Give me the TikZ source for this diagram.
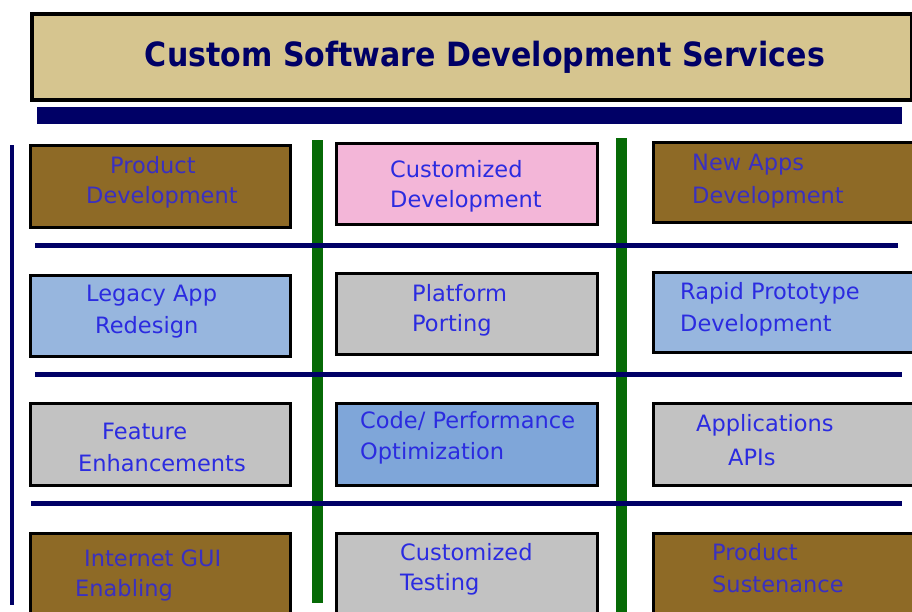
\documentclass[tikz,border=0pt]{standalone}
\usepackage{fontspec}
\setmainfont{DejaVu Sans}
\newfontfamily\titlefont{DejaVu Sans Condensed}
\definecolor{tan}{HTML}{D6C58F}
\definecolor{navy}{HTML}{000066}
\definecolor{dgreen}{HTML}{066A06}
\definecolor{brownbox}{HTML}{8E6A26}
\definecolor{pinkbox}{HTML}{F3B6D8}
\definecolor{bluebox}{HTML}{97B6DE}
\definecolor{codebox}{HTML}{7FA6D9}
\definecolor{graybox}{HTML}{C2C2C2}
\definecolor{txtblue}{HTML}{2B2BE0}
\definecolor{txtdark}{HTML}{3A30C0}
\begin{document}
\begin{tikzpicture}[x=1pt,y=-1pt,
  svc/.style={draw=black,line width=3pt,inner sep=0pt},
  lbl/.style={anchor=west,inner sep=0pt,font=\fontsize{22.5}{25}\selectfont,text=txtblue},
  lbldark/.style={lbl,text=txtdark},
  hline/.style={navy,line width=5pt},
  vbar/.style={dgreen,line width=11pt}]
\useasboundingbox (0,0) rectangle (912,611);
\fill[white] (0,0) rectangle (912,611);
% title
\node[draw=black,line width=4pt,fill=tan,minimum width=880pt,minimum height=86pt,inner sep=0pt,anchor=north west] (title) at (30,12) {};
\node[font=\titlefont\bfseries\fontsize{33.4}{37}\selectfont,text=navy] (titletext) at ([xshift=13pt,yshift=0pt]title.center) {Custom Software Development Services};
\fill[navy] (37,107) rectangle (902,124);
% vertical lines
\coordinate (l1) at (12,145); \coordinate (l2) at (12,605);
\draw[navy,line width=4pt] (l1) -- (l2);
\coordinate (g1a) at (317,140); \coordinate (g1b) at (317,603);
\coordinate (g2a) at (621,138); \coordinate (g2b) at (621,612);
\draw[vbar] (g1a) -- (g1b);
\draw[vbar] (g2a) -- (g2b);
% horizontal lines
\coordinate (h1a) at (35,245); \coordinate (h1b) at (898,245);
\coordinate (h2a) at (35,374); \coordinate (h2b) at (902,374);
\coordinate (h3a) at (31,503); \coordinate (h3b) at (902,503);
\draw[hline] (h1a) -- (h1b);
\draw[hline] (h2a) -- (h2b);
\draw[hline] (h3a) -- (h3b);
% boxes
\path[svc,fill=brownbox] (30,145) rectangle (290,227) coordinate (b11);
\path[svc,fill=pinkbox] (336,143) rectangle (597,224) coordinate (b12);
\path[svc,fill=brownbox] (653,142) rectangle (914,222) coordinate (b13);
\path[svc,fill=bluebox] (30,275) rectangle (290,356) coordinate (b21);
\path[svc,fill=graybox] (336,273) rectangle (597,354) coordinate (b22);
\path[svc,fill=bluebox] (653,272) rectangle (914,352) coordinate (b23);
\path[svc,fill=graybox] (30,403) rectangle (290,485) coordinate (b31);
\path[svc,fill=codebox] (336,403) rectangle (597,485) coordinate (b32);
\path[svc,fill=graybox] (653,403) rectangle (914,485) coordinate (b33);
\path[svc,fill=brownbox] (30,533) rectangle (290,620) coordinate (b41);
\path[svc,fill=graybox] (336,533) rectangle (597,620) coordinate (b42);
\path[svc,fill=brownbox] (653,533) rectangle (914,620) coordinate (b43);
% texts
\node[lbldark] (t11a) at (110,165) {Product};
\node[lbldark] (t11b) at (86,197) {Development};
\node[lbl] (t12a) at (390,169) {Customized};
\node[lbl] (t12b) at (390,201) {Development};
\node[lbldark] (t13a) at (692,165) {New Apps};
\node[lbldark] (t13b) at (692,197) {Development};
\node[lbl] (t21a) at (86,296) {Legacy App};
\node[lbl] (t21b) at (95,327) {Redesign};
\node[lbl] (t22a) at (412,293) {Platform};
\node[lbl] (t22b) at (412,325) {Porting};
\node[lbl] (t23a) at (680,293) {Rapid Prototype};
\node[lbl] (t23b) at (680,325) {Development};
\node[lbl] (t31a) at (102,431) {Feature};
\node[lbl] (t31b) at (78,463) {Enhancements};
\node[lbl] (t32a) at (360,421) {Code/ Performance};
\node[lbl] (t32b) at (360,453) {Optimization};
\node[lbl] (t33a) at (696,425) {Applications};
\node[lbl] (t33b) at (728,457) {APIs};
\node[lbldark] (t41a) at (84,558) {Internet GUI};
\node[lbldark] (t41b) at (75,590) {Enabling};
\node[lbl] (t42a) at (400,552) {Customized};
\node[lbl] (t42b) at (400,584) {Testing};
\node[lbldark] (t43a) at (712,552) {Product};
\node[lbldark] (t43b) at (712,584) {Sustenance};
\end{tikzpicture}
\end{document}
